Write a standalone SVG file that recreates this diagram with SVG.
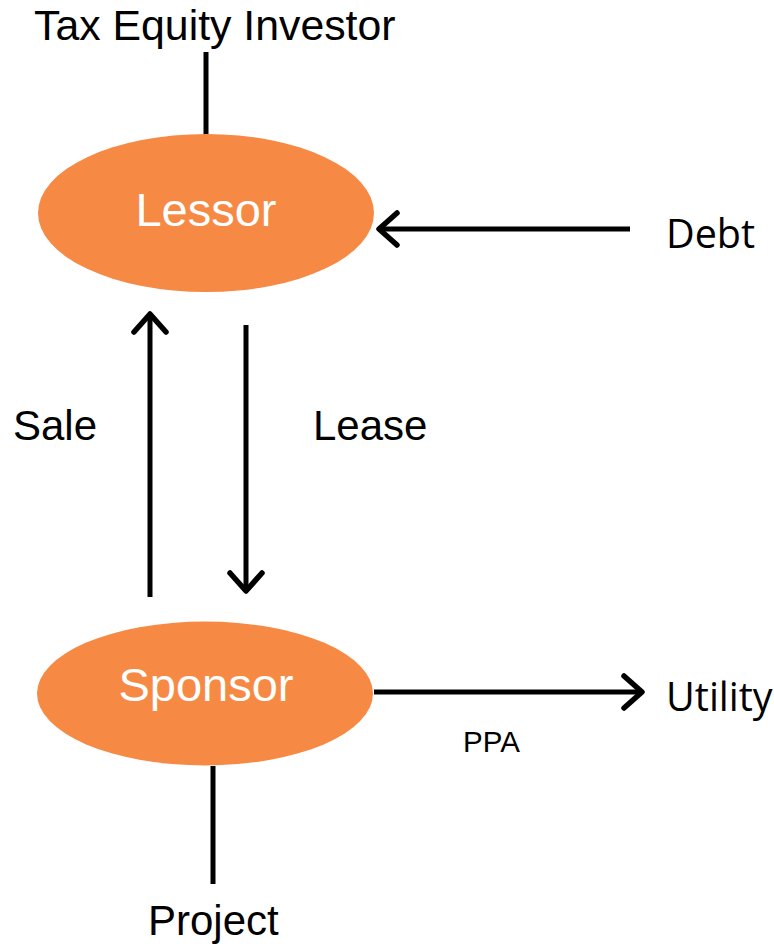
<svg xmlns="http://www.w3.org/2000/svg" width="774" height="947" viewBox="0 0 774 947">
<style>
.node{fill:#F68A45}
.nt{fill:#fff;font-family:"Liberation Sans",Arial,sans-serif;font-size:47px;text-anchor:middle}
.lbl{fill:#000;font-family:"Liberation Sans",Arial,sans-serif;font-size:42px}
.lbl2{fill:#000;font-family:"Open Sans","Liberation Sans",sans-serif;font-size:39.5px}
.ln{stroke:#000;stroke-width:5;fill:none}
.hd{stroke:#000;stroke-width:5.5;fill:none;stroke-linecap:round;stroke-linejoin:round}
</style>
<rect width="774" height="947" fill="#fff"/>
<g id="connectors">
<line class="ln" x1="206" y1="52" x2="206" y2="148"/>
<line class="ln" x1="630" y1="229" x2="378" y2="229"/>
<polyline class="hd" points="397,213 379,229 397,245"/>
<line class="ln" x1="150" y1="597" x2="150" y2="314"/>
<polyline class="hd" points="134,332 150,314 166,332"/>
<line class="ln" x1="246" y1="325" x2="246" y2="591"/>
<polyline class="hd" points="230,573 246,591 262,573"/>
<line class="ln" x1="374" y1="692" x2="642" y2="692"/>
<polyline class="hd" points="624,676 642,692 624,708"/>
<line class="ln" x1="213" y1="766" x2="213" y2="884"/>
</g>
<g id="lessor">
<ellipse class="node" cx="206" cy="213" rx="168" ry="79"/>
<text class="nt" x="206" y="226">Lessor</text>
</g>
<g id="sponsor">
<ellipse class="node" cx="205" cy="693.5" rx="168" ry="72"/>
<text class="nt" x="206" y="701">Sponsor</text>
</g>
<g id="tax-equity">
<text class="lbl" x="34" y="40" style="font-size:42.8px">Tax Equity Investor</text>
</g>
<g id="debt">
<text class="lbl2" x="666" y="248">Debt</text>
</g>
<g id="utility">
<text class="lbl2" x="666" y="711">Utility</text>
</g>
<g id="project">
<text class="lbl" x="148" y="935">Project</text>
</g>
<text class="lbl" x="13" y="440">Sale</text>
<text class="lbl" x="313" y="440">Lease</text>
<text x="463" y="752" style="font-family:'Liberation Sans',Arial,sans-serif;font-size:29.5px">PPA</text>
</svg>
